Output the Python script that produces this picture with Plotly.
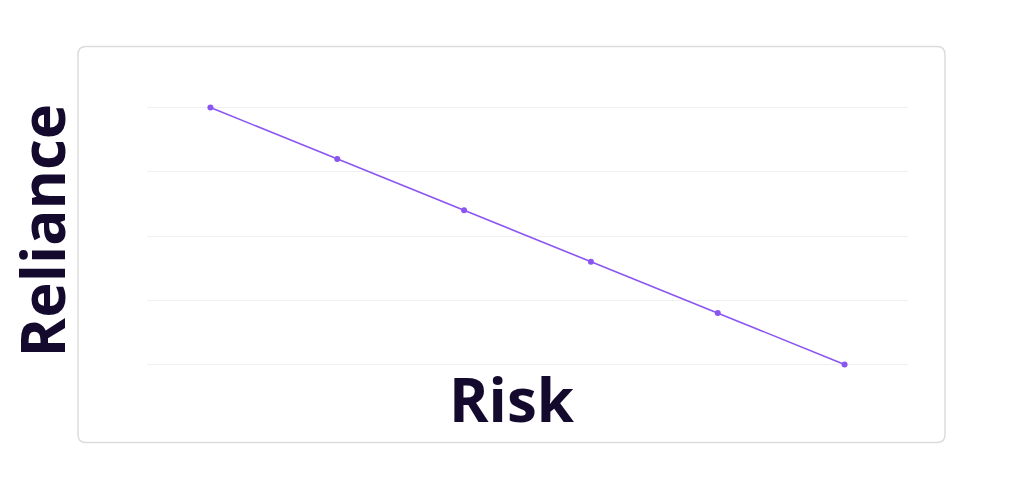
import plotly.graph_objects as go

# data
steps = [0, 1, 2, 3, 4, 5]
reliance = [100, 80, 60, 40, 20, 0]

x_title = "Risk"
y_title = "Reliance"

ink = "#130a2e"
purple = "#8b55f0"

fig = go.Figure()
fig.add_trace(go.Scatter(
    x=steps, y=reliance, mode="lines+markers",
    line=dict(color=purple, width=1.6),
    marker=dict(color=purple, size=6),
    cliponaxis=False, hoverinfo="skip", showlegend=False,
))

# card with rounded corners, in paper coords of the plot area
x0, x1, y0, y1 = -0.0907, 1.0486, -0.2946, 1.2287
rx, ry = 0.0105, 0.031
card = (f"M {x0+rx},{y1} L {x1-rx},{y1} Q {x1},{y1} {x1},{y1-ry} "
        f"L {x1},{y0+ry} Q {x1},{y0} {x1-rx},{y0} "
        f"L {x0+rx},{y0} Q {x0},{y0} {x0},{y0+ry} "
        f"L {x0},{y1-ry} Q {x0},{y1} {x0+rx},{y1} Z")
fig.add_shape(type="path", path=card, xref="paper", yref="paper",
              line=dict(color="#dcdcdc", width=1.5), layer="below")

fig.add_annotation(text=x_title, xref="paper", yref="paper",
                   x=0.479, y=-0.292, showarrow=False,
                   font=dict(family="Open Sans", size=60, color=ink, weight=700))
fig.add_annotation(text=y_title, xref="paper", yref="paper",
                   x=-0.195, y=0.52, showarrow=False, textangle=-90,
                   font=dict(family="Open Sans", size=60, color=ink, weight=700))

fig.update_xaxes(range=[-0.5, 5.5], showgrid=False, zeroline=False,
                 showticklabels=False, showline=False)
fig.update_yaxes(range=[-0.6, 100.6], tickvals=[0, 25, 50, 75, 100],
                 showgrid=True, gridcolor="#f0f0f0", gridwidth=1,
                 zeroline=False, showticklabels=False, showline=False)

fig.update_layout(
    width=1024, height=484,
    margin=dict(l=147, r=116, t=106, b=118),
    paper_bgcolor="white", plot_bgcolor="white",
)

# drop the page's default 8px body margin so the figure fills the window
fig.write_html("out.html", config={"displayModeBar": False},
               post_script="document.body.style.margin='0';")
